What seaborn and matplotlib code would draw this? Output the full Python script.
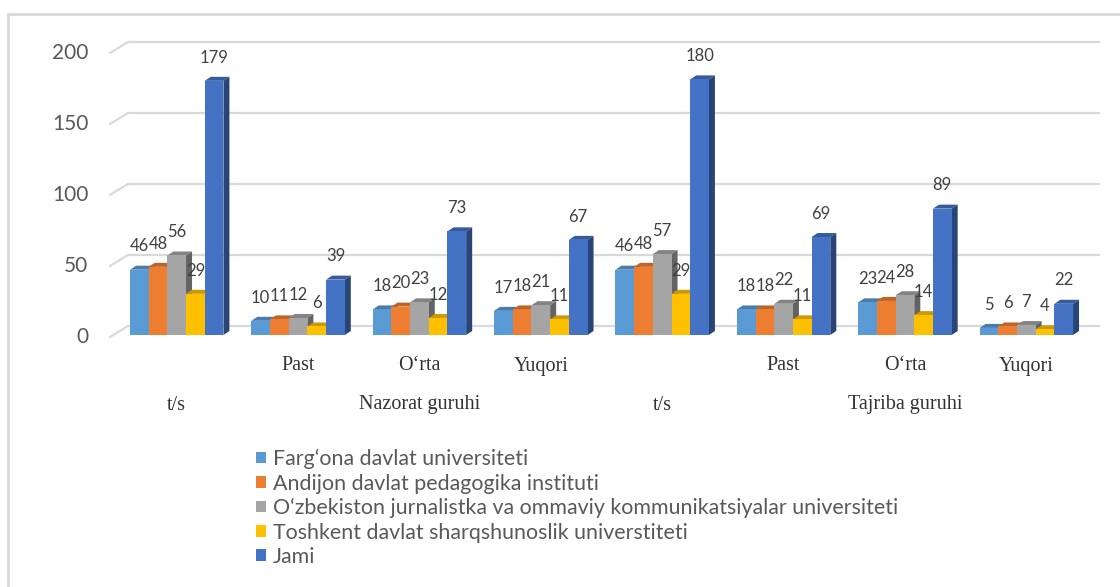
import matplotlib
matplotlib.use("Agg")
import numpy as np
import pandas as pd
import matplotlib.pyplot as plt
import matplotlib.colors as mcolors
from matplotlib.patches import Polygon, Rectangle
from matplotlib import transforms
import seaborn as sns

# chart data
categories = ["t/s", "Past", "O‘rta", "Yuqori", "t/s", "Past", "O‘rta", "Yuqori"]
groups = ["Nazorat guruhi", "Tajriba guruhi"]
series = [
    "Farg‘ona davlat universiteti",
    "Andijon davlat pedagogika instituti",
    "O‘zbekiston jurnalistka va ommaviy kommunikatsiyalar universiteti",
    "Toshkent davlat sharqshunoslik universtiteti",
    "Jami",
]
fargona = [46, 10, 18, 17, 46, 18, 23, 5]
andijon = [48, 11, 20, 18, 48, 18, 24, 6]
ozbekiston = [56, 12, 23, 21, 57, 22, 28, 7]
toshkent = [29, 6, 12, 11, 29, 11, 14, 4]
jami = [179, 39, 73, 67, 180, 69, 89, 22]
colors = ["#5B9BD5", "#ED7D31", "#A5A5A5", "#FFC000", "#4472C4"]

values = [fargona, andijon, ozbekiston, toshkent, jami]
rows = []
for name, vals in zip(series, values):
    for i, v in enumerate(vals):
        rows.append({"pos": i, "series": name, "value": v})
df = pd.DataFrame(rows)

sns.set_theme(style="white")
plt.rcParams["font.family"] = ["Lato", "DejaVu Sans"]

W, H = 1120, 587
fig = plt.figure(figsize=(W / 100, H / 100), dpi=100)
ax = fig.add_axes([116 / W, 252 / H, 971 / W, 284 / H])

sns.barplot(data=df, x="pos", y="value", hue="series", hue_order=series,
            palette=colors, width=0.77, saturation=1, linewidth=0,
            ax=ax, zorder=3)

ax.set_xlim(-0.5, 7.5)
ax.set_ylim(0, 200)

# pixel -> data units
px_x = 971 / 8
px_y = 284 / 200
DX, DY = 6 / px_x, 4 / px_y      # bar depth
GX, GY = 12 / px_x, 9 / px_y     # back wall offset

# value labels
for c in ax.containers:
    ax.bar_label(c, padding=11, fontsize=12, color="#404040")

# fake 3D faces
for c, col in zip(ax.containers, colors):
    rgb = np.array(mcolors.to_rgb(col))
    for bar in c:
        x0, w, h = bar.get_x(), bar.get_width(), bar.get_height()
        x1 = x0 + w
        top = Polygon([(x0, h), (x1, h), (x1 + DX, h + DY), (x0 + DX, h + DY)],
                      closed=True, facecolor=rgb * 0.8, edgecolor="none", zorder=2)
        side = Polygon([(x1, 0), (x1, h), (x1 + DX, h + DY), (x1 + DX, DY)],
                       closed=True, facecolor=rgb * 0.6, edgecolor="none", zorder=2)
        ax.add_patch(top)
        ax.add_patch(side)

# gridlines on the back wall
for v in [0, 50, 100, 150, 200]:
    ax.plot([-0.5 + GX, 7.5 + GX], [v + GY, v + GY], color="#d9d9d9", lw=1.6,
            zorder=0, clip_on=False)
    ax.plot([-0.5 - 0.05, -0.5 + GX], [v - 2 / px_y, v + GY], color="#d9d9d9",
            lw=1.6, zorder=0, clip_on=False)

ax.set_yticks([0, 50, 100, 150, 200])
ax.tick_params(axis="y", length=0, pad=20, labelsize=15, labelcolor="#595959")
ax.set_xticks([])
ax.set_xlabel("")
ax.set_ylabel("")
sns.despine(ax=ax, left=True, bottom=True)

# category labels (two levels)
tr = transforms.blended_transform_factory(ax.transData, fig.transFigure)
serif = ["Liberation Serif", "DejaVu Serif"]
for i, lab in enumerate(categories):
    y = (H - 405) / H if lab == "t/s" else (H - 366) / H
    ax.text(i, y, lab, transform=tr, ha="center", va="center", fontsize=14.5,
            family=serif, color="#333333")
for k, g in enumerate(groups):
    ax.text(2 + 4 * k, (H - 405) / H, g, transform=tr, ha="center", va="center",
            fontsize=14.5, family=serif, color="#333333")

# legend
handles, labels = ax.get_legend_handles_labels()
ax.legend_.remove()
leg = fig.legend(handles, labels, loc="upper left",
                 bbox_to_anchor=(256 / W, 1 - 449 / H), frameon=False,
                 fontsize=15.4, handlelength=0.45, handleheight=0.45,
                 handletextpad=0.35, labelspacing=0.2, borderaxespad=0,
                 borderpad=0)
for t in leg.get_texts():
    t.set_color("#595959")

# chart frame
fig.patches.append(Rectangle((8 / W, -0.1), 1.2, (H - 14) / H + 0.1,
                             transform=fig.transFigure, fill=False,
                             edgecolor="#d9d9d9", lw=2))

fig.savefig("out.png", dpi=100)
